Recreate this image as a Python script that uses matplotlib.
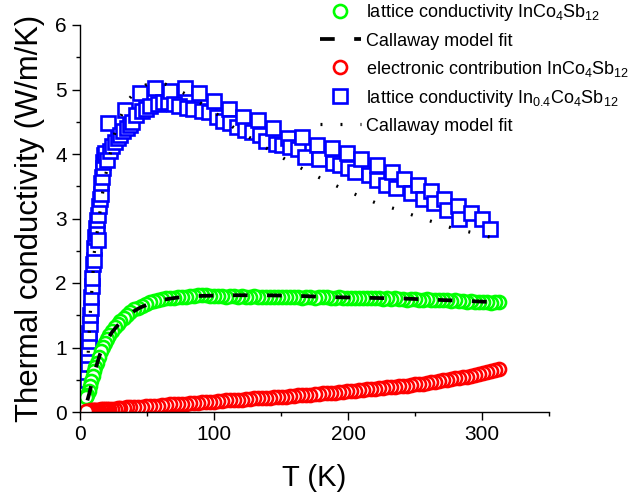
import matplotlib
matplotlib.use("Agg")
import matplotlib.pyplot as plt
from matplotlib.lines import Line2D
from matplotlib.ticker import MultipleLocator

plt.rcParams['font.family'] = ['Liberation Sans', 'DejaVu Sans']
plt.rcParams['mathtext.fontset'] = 'custom'
plt.rcParams['mathtext.rm'] = 'Liberation Sans'
plt.rcParams['mathtext.it'] = 'Liberation Sans:italic'
plt.rcParams['mathtext.default'] = 'regular'
plt.rcParams['lines.scale_dashes'] = False

# ---- InCo4Sb12: temperature grid shared by lattice and electronic parts ----
T_K = [4.5, 5.5, 6.5, 7.5, 8.5, 9.5, 10.5, 11.5, 12.5, 14, 15.5, 17, 18.5, 20,
       22, 24, 26, 28, 30, 32.5, 35, 37.5, 40, 43, 46, 49, 52, 55, 58, 61, 64,
       67, 70, 73, 76, 79, 82, 85, 88, 91, 94, 97, 100, 103, 106, 109, 112, 115,
       118, 121, 124, 127, 130, 133, 136, 139, 142, 145, 148, 151, 154, 157, 160,
       163, 166, 169, 172, 175, 178, 181, 184, 187, 190, 193, 196, 199, 202, 205,
       208, 211, 214, 217, 220, 223, 226, 229, 232, 235, 238, 241, 244, 247, 250,
       253, 256, 259, 262, 265, 268, 271, 274, 277, 280, 283, 286, 289, 292, 295,
       298, 301, 304, 307, 310, 313]

kappa_lat_InCo = [0.24, 0.27, 0.33, 0.40, 0.48, 0.56, 0.63, 0.70, 0.76, 0.85,
                  0.94, 1.01, 1.07, 1.13, 1.20, 1.26, 1.32, 1.37, 1.41, 1.46,
                  1.51, 1.55, 1.59, 1.62, 1.65, 1.68, 1.70, 1.72, 1.73, 1.75,
                  1.76, 1.77, 1.77, 1.78, 1.79, 1.79, 1.80, 1.80, 1.81, 1.82,
                  1.81, 1.80, 1.80, 1.80, 1.80, 1.79, 1.80, 1.80, 1.79, 1.80,
                  1.79, 1.79, 1.80, 1.79, 1.79, 1.78, 1.79, 1.79, 1.78, 1.79,
                  1.78, 1.78, 1.79, 1.78, 1.77, 1.78, 1.78, 1.77, 1.78, 1.79,
                  1.78, 1.77, 1.77, 1.78, 1.77, 1.77, 1.76, 1.77, 1.77, 1.76,
                  1.76, 1.77, 1.76, 1.76, 1.75, 1.76, 1.75, 1.76, 1.75, 1.75,
                  1.74, 1.75, 1.75, 1.74, 1.74, 1.75, 1.74, 1.73, 1.74, 1.73,
                  1.73, 1.72, 1.73, 1.72, 1.72, 1.71, 1.72, 1.71, 1.70, 1.71,
                  1.70, 1.69, 1.71, 1.70]

kappa_el_InCo = [0.02, 0.02, 0.02, 0.02, 0.03, 0.03, 0.03, 0.03, 0.03, 0.03,
                 0.04, 0.04, 0.04, 0.04, 0.05, 0.05, 0.05, 0.06, 0.06, 0.06,
                 0.07, 0.07, 0.07, 0.08, 0.08, 0.09, 0.09, 0.10, 0.10, 0.11,
                 0.11, 0.12, 0.12, 0.12, 0.13, 0.13, 0.14, 0.14, 0.14, 0.15,
                 0.15, 0.16, 0.16, 0.17, 0.17, 0.18, 0.18, 0.18, 0.19, 0.19,
                 0.20, 0.20, 0.21, 0.21, 0.22, 0.22, 0.22, 0.23, 0.23, 0.24,
                 0.24, 0.25, 0.25, 0.26, 0.26, 0.27, 0.27, 0.28, 0.28, 0.29,
                 0.29, 0.30, 0.30, 0.31, 0.31, 0.32, 0.32, 0.33, 0.34, 0.34,
                 0.35, 0.35, 0.36, 0.37, 0.37, 0.38, 0.39, 0.39, 0.40, 0.41,
                 0.41, 0.42, 0.43, 0.44, 0.44, 0.45, 0.46, 0.47, 0.48, 0.49,
                 0.50, 0.51, 0.52, 0.53, 0.54, 0.55, 0.56, 0.58, 0.59, 0.60,
                 0.62, 0.63, 0.65, 0.67]

# Callaway fit to the InCo4Sb12 lattice conductivity
fit_InCo_T = [5.5, 7, 10, 12, 15, 18, 20, 24, 28, 31, 35, 40, 45, 51, 56, 62,
              68, 75, 90, 112, 137, 163, 188, 215, 240, 265, 290, 313]
fit_InCo_k = [0.18, 0.29, 0.56, 0.70, 0.90, 1.03, 1.11, 1.24, 1.34, 1.40, 1.48,
              1.56, 1.62, 1.67, 1.71, 1.74, 1.76, 1.78, 1.80, 1.81, 1.81, 1.80,
              1.78, 1.77, 1.76, 1.74, 1.72, 1.70]

# ---- In0.4Co4Sb12 lattice conductivity ----
T_In04 = [4.8, 5.0, 5.3, 5.6, 5.9, 6.2, 6.5, 6.8, 7.2, 7.6, 8.0, 8.3, 8.8, 9.2,
          9.7, 10.2, 10.8, 11.3, 11.8, 12.5, 13.5, 13.0, 13.8, 14.5, 15.0, 15.5,
          16.0, 16.5, 17.0, 17.5, 18.0, 19.0, 20.5, 21.0, 22.5, 24, 26, 28, 30,
          32, 33.6, 35, 37, 39, 42, 45, 46, 49, 52, 56, 58, 62, 66, 67, 70, 74,
          78, 80, 84, 89, 91, 96, 100, 102, 107, 111, 112, 117, 122, 123, 128,
          133, 134, 139, 144, 146, 151, 155, 157, 163, 166, 168, 177, 178, 188,
          189, 194, 199, 200, 205, 210, 216, 222, 222, 228, 233, 236, 242, 247,
          252, 256, 262, 264, 272, 274, 282, 283, 292, 300, 306]
kappa_In04 = [0.40, 0.50, 0.62, 0.75, 0.88, 1.00, 1.10, 1.22, 1.36, 1.50, 1.62,
              1.78, 1.95, 2.08, 2.30, 2.36, 2.55, 2.72, 2.85, 2.78, 2.66, 2.98,
              3.05, 3.20, 3.30, 3.38, 3.55, 3.65, 3.78, 3.88, 3.98, 4.02, 3.90,
              4.48, 4.05, 4.12, 4.18, 4.25, 4.30, 4.35, 4.68, 4.40, 4.45, 4.50,
              4.60, 4.94, 4.66, 4.70, 4.75, 5.03, 4.78, 4.80, 4.81, 4.97, 4.77,
              4.74, 5.03, 4.72, 4.70, 4.94, 4.66, 4.65, 4.82, 4.58, 4.51, 4.69,
              4.48, 4.42, 4.57, 4.37, 4.34, 4.53, 4.29, 4.20, 4.40, 4.15, 4.14,
              4.25, 4.11, 4.08, 4.26, 3.96, 4.14, 3.92, 4.09, 3.86, 3.83, 4.02,
              3.78, 3.72, 3.92, 3.67, 3.83, 3.60, 3.52, 3.72, 3.47, 3.61, 3.40,
              3.52, 3.30, 3.43, 3.24, 3.30, 3.13, 3.19, 3.00, 3.09, 2.99, 2.84]

# Callaway fit to the In0.4Co4Sb12 lattice conductivity
fit_In04_T = [4.5, 5.5, 6, 6.7, 7.5, 8.5, 9.5, 10.5, 12.5, 14.5, 16.5, 19, 22,
              25, 30, 36, 42, 49, 56, 64, 77, 90, 102, 114, 127, 140, 153, 166,
              179, 193, 207, 221, 235, 250, 263, 278, 293, 308]
fit_In04_k = [0.30, 0.54, 0.85, 1.18, 1.47, 1.78, 2.09, 2.45, 2.74, 3.04, 3.35,
              3.66, 3.95, 4.26, 4.56, 4.84, 4.98, 5.07, 5.10, 5.08, 4.95, 4.79,
              4.62, 4.42, 4.25, 4.08, 3.92, 3.77, 3.63, 3.49, 3.36, 3.24, 3.15,
              3.04, 2.95, 2.85, 2.78, 2.70]

GREEN, RED, BLUE = '#00ff00', '#ff0000', '#0000ff'
MS, MEW = 9.4, 1.9
DASHED = dict(color='black', lw=2.7, dashes=(10.6, 14.0), dash_capstyle='butt')
DOTTED = dict(color='black', lw=2.3, dashes=(1.4, 13.0), dash_capstyle='butt')

fig = plt.figure(figsize=(6.34, 4.97), dpi=100)
ax = fig.add_axes([80 / 634, 85 / 497, 469 / 634, 387 / 497])

ax.plot(T_In04, kappa_In04, ls='none', marker='s', ms=MS, mew=MEW,
        mec=BLUE, mfc='white')
ax.plot(fit_In04_T, fit_In04_k, **DOTTED)

# cooling runs: draw from high to low temperature
ax.plot(T_K[::-1], kappa_lat_InCo[::-1], ls='none', marker='o', ms=MS,
        mew=MEW, mec=GREEN, mfc='white')
ax.plot(T_K[::-1], kappa_el_InCo[::-1], ls='none', marker='o', ms=MS,
        mew=MEW, mec=RED, mfc='white')
ax.plot(fit_InCo_T, fit_InCo_k, **DASHED)

ax.set_xlim(0, 350)
ax.set_ylim(0, 6)
ax.xaxis.set_major_locator(MultipleLocator(100))
ax.xaxis.set_minor_locator(MultipleLocator(50))
ax.yaxis.set_major_locator(MultipleLocator(1))
ax.yaxis.set_minor_locator(MultipleLocator(0.5))
for side in ('top', 'right'):
    ax.spines[side].set_visible(False)
for side in ('left', 'bottom'):
    ax.spines[side].set_linewidth(1.0)
ax.tick_params(which='major', direction='out', length=5.5, width=1.0,
               labelsize=15, pad=4)
ax.tick_params(which='minor', direction='out', length=3, width=1.0)

ax.set_xlabel('T (K)', fontsize=21, labelpad=14)
ax.set_ylabel('Thermal conductivity (W/m/K)', fontsize=22.3, labelpad=7)

handles = [
    Line2D([], [], ls='none', marker='o', ms=MS, mew=MEW, mec=GREEN, mfc='white'),
    Line2D([], [], **DASHED),
    Line2D([], [], ls='none', marker='o', ms=MS, mew=MEW, mec=RED, mfc='white'),
    Line2D([], [], ls='none', marker='s', ms=MS, mew=MEW, mec=BLUE, mfc='white'),
    Line2D([], [], **DOTTED),
]
labels = [
    'lattice conductivity InCo$_4$Sb$_{12}$',
    'Callaway model fit',
    'electronic contribution InCo$_4$Sb$_{12}$',
    'lattice conductivity In$_{0.4}$Co$_4$Sb$_{12}$',
    'Callaway model fit',
]
fig.legend(handles, labels, loc='upper left', bbox_to_anchor=(320 / 634, 0.995),
           frameon=False, borderpad=0, borderaxespad=0, handlelength=2.27,
           handletextpad=0.27, labelspacing=0.50, fontsize=13.0, numpoints=1)

fig.savefig('out.png', dpi=100)
